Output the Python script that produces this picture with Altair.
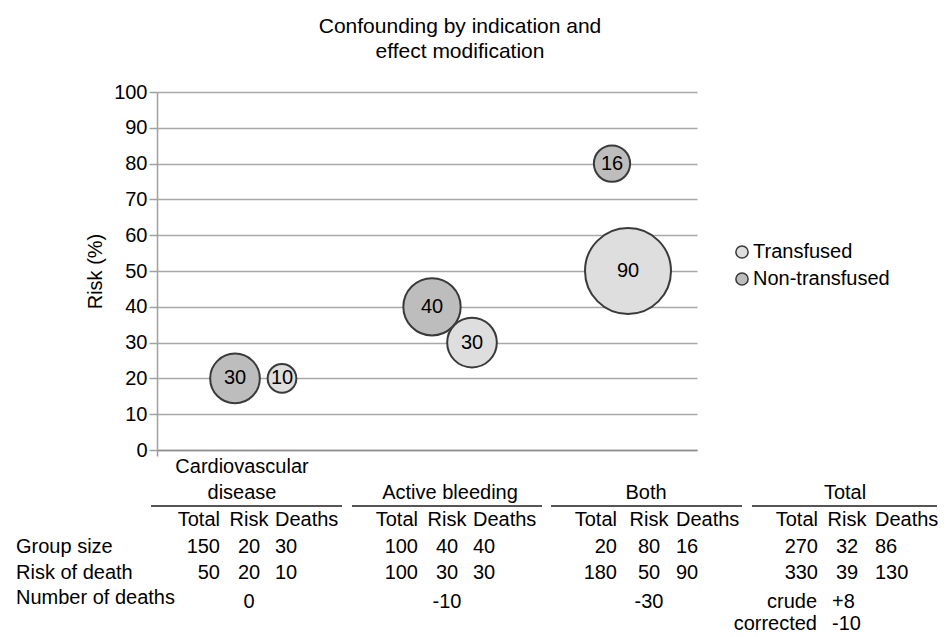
import altair as alt
import pandas as pd

FONT = "Liberation Sans"

# ---------------- bubble data ----------------
categories = ["Cardiovascular disease", "Active bleeding", "Both"]
nontransfused_x = [0.93, 1.915, 2.815]
nontransfused_risk = [20, 40, 80]
nontransfused_deaths = [30, 40, 16]
transfused_x = [1.165, 2.115, 2.895]
transfused_risk = [20, 30, 50]
transfused_deaths = [10, 30, 90]

# ---------------- table data ----------------
group_names = ["Cardiovascular disease", "Active bleeding", "Both", "Total"]
col_heads = ["Total", "Risk", "Deaths"]
row_labels = ["Group size", "Risk of death", "Number of deaths"]
group_size_total = [150, 100, 20, 270]
group_size_risk = [20, 40, 80, 32]
group_size_deaths = [30, 40, 16, 86]
risk_death_total = [50, 100, 180, 330]
risk_death_risk = [20, 30, 50, 39]
risk_death_deaths = [10, 30, 90, 130]
number_of_deaths = ["0", "-10", "-30"]
summary_labels = ["crude", "corrected"]
summary_values = ["+8", "-10"]

# ---------------- layout anchors (x units of the shared scale) ----------------
TOTAL_RIGHT = [0.855, 1.845, 2.84, 3.845]
RISK_CENTER = [1.0, 1.99, 3.0, 3.99]
DEATHS_LEFT = [1.13, 2.12, 3.135, 4.13]
HEADER_CENTER = [0.965, 2.005, 2.985, 3.98]
RULE_FROM = [0.51, 1.515, 2.51, 3.515]
RULE_TO = [1.465, 2.465, 3.465, 4.44]
LABEL_X = -0.165
SUMMARY_RIGHT = 3.84
SUMMARY_LEFT = 3.915
ROW = {"head1": -4.75, "head2": -12.0, "rule": -15.64, "cols": -19.55,
       "size": -27.1, "risk": -34.36, "nd_label": -41.3, "nd": -42.5,
       "crude": -42.4, "corr": -48.6}

# bubbles
bub = pd.DataFrame({
    "u": nontransfused_x + transfused_x,
    "v": nontransfused_risk + transfused_risk,
    "deaths": nontransfused_deaths + transfused_deaths,
    "group": ["Non-transfused"] * 3 + ["Transfused"] * 3,
    "category": categories + categories,
})

left_rows, right_rows, center_rows = [], [], []
for lab, key in zip(row_labels, ["size", "risk", "nd_label"]):
    left_rows.append((lab, LABEL_X, ROW[key]))
for i in range(4):
    right_rows.append((col_heads[0], TOTAL_RIGHT[i], ROW["cols"]))
    center_rows.append((col_heads[1], RISK_CENTER[i], ROW["cols"]))
    left_rows.append((col_heads[2], DEATHS_LEFT[i], ROW["cols"]))
    right_rows.append((str(group_size_total[i]), TOTAL_RIGHT[i], ROW["size"]))
    center_rows.append((str(group_size_risk[i]), RISK_CENTER[i], ROW["size"]))
    left_rows.append((str(group_size_deaths[i]), DEATHS_LEFT[i], ROW["size"]))
    right_rows.append((str(risk_death_total[i]), TOTAL_RIGHT[i], ROW["risk"]))
    center_rows.append((str(risk_death_risk[i]), RISK_CENTER[i], ROW["risk"]))
    left_rows.append((str(risk_death_deaths[i]), DEATHS_LEFT[i], ROW["risk"]))
for i, t in enumerate(number_of_deaths):
    center_rows.append((t, RISK_CENTER[i], ROW["nd"]))
center_rows.append(("Cardiovascular", HEADER_CENTER[0], ROW["head1"]))
center_rows.append(("disease", HEADER_CENTER[0], ROW["head2"]))
for i in range(1, 4):
    center_rows.append((group_names[i], HEADER_CENTER[i], ROW["head2"]))
right_rows.append((summary_labels[0], SUMMARY_RIGHT, ROW["crude"]))
right_rows.append((summary_labels[1], SUMMARY_RIGHT, ROW["corr"]))
left_rows.append((summary_values[0], SUMMARY_LEFT, ROW["crude"]))
left_rows.append((summary_values[1], SUMMARY_LEFT, ROW["corr"]))

def df(rows):
    return pd.DataFrame(rows, columns=["text", "u", "v"])

rules = pd.DataFrame({"u": RULE_FROM, "u2": RULE_TO, "v": [ROW["rule"]] * 4})

xscale = alt.Scale(domain=[0.54, 3.24], nice=False, zero=False)
yscale = alt.Scale(domain=[0, 100], nice=False)
xaxis = alt.Axis(title=None, labels=False, grid=False, values=[0.54], tickSize=6,
                 tickColor="#9a9a9a", domainColor="#8c8c8c", domainWidth=1.5, tickWidth=1.5)
yaxis = alt.Axis(title="Risk (%)", values=list(range(0, 101, 10)), grid=True,
                 gridColor="#a8a8a8", gridWidth=1.5, domainColor="#a0a0a0", domainWidth=1.5,
                 tickColor="#a0a0a0", tickSize=8, tickWidth=1.5, labelFontSize=20,
                 labelFont=FONT, labelColor="black", labelPadding=2,
                 titleFontSize=20, titleFont=FONT, titleFontWeight="normal",
                 titleColor="black", titlePadding=8)

def X():
    return alt.X("u:Q", scale=xscale, axis=xaxis)

def Y():
    return alt.Y("v:Q", scale=yscale, axis=yaxis)

bubbles = alt.Chart(bub).mark_point(shape="circle", filled=True, opacity=1,
                                     stroke="#3a3a3a", strokeWidth=2).encode(
    x=X(), y=Y(),
    fill=alt.Fill("group:N",
                  scale=alt.Scale(domain=["Transfused", "Non-transfused"],
                                  range=["#dedede", "#bdbdbd"]),
                  legend=alt.Legend(title=None, orient="none", legendX=575, legendY=150,
                                    labelFontSize=20, labelFont=FONT, labelColor="black",
                                    symbolType="circle", symbolSize=150,
                                    symbolStrokeColor="#3a3a3a", symbolStrokeWidth=1.5,
                                    symbolOpacity=1, rowPadding=7, labelOffset=1)),
    size=alt.Size("deaths:Q", scale=alt.Scale(domain=[0, 90], range=[0, 7396]), legend=None),
)

bubble_text = alt.Chart(bub).mark_text(fontSize=20, font=FONT, color="black",
                                       baseline="middle").encode(
    x=X(), y=Y(), text="deaths:Q")

def text_layer(data, align):
    return alt.Chart(df(data)).mark_text(fontSize=20, font=FONT, color="black",
                                         baseline="middle", align=align).encode(
        x=X(), y=Y(), text="text:N")

rule_layer = alt.Chart(rules).mark_rule(color="#555555", strokeWidth=1.8).encode(
    x=X(), x2="u2:Q", y=Y())

chart = alt.layer(
    bubbles, bubble_text,
    text_layer(left_rows, "left"), text_layer(right_rows, "right"),
    text_layer(center_rows, "center"), rule_layer,
).properties(
    width=540, height=358,
    title=alt.TitleParams(["Confounding by indication and", "effect modification"],
                          fontSize=21, font=FONT, fontWeight="normal", color="black",
                          anchor="middle", frame="group", dx=33, offset=20, lineHeight=25),
    padding={"left": 8, "top": 8, "right": 0, "bottom": 0},
).configure_view(stroke=None)

chart.save("out.html", embed_options={"renderer": "svg", "actions": False})
